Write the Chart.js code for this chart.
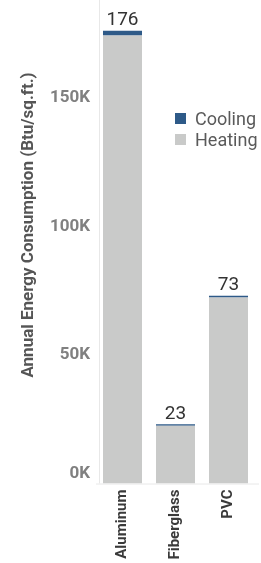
<!DOCTYPE html>
<html>
<head>
<meta charset="utf-8">
<script src="https://cdn.jsdelivr.net/npm/chart.js@4"></script>
<style>
  body { margin: 0; background: #fff; }
  #caja { position: relative; width: 261px; height: 563px; }
  #leyenda { position: absolute; left: 175px; top: 108px; font-family: Roboto, sans-serif; font-size: 18px; color: #5a5a5a; }
  .fila { display: flex; align-items: center; height: 21px; }
  .cuadro { width: 11px; height: 11px; margin-right: 9px; }
</style>
</head>
<body>
<div id="caja">
  <canvas id="grafica" width="261" height="563"></canvas>
  <div id="leyenda">
    <div class="fila"><span class="cuadro" style="background:#2e5a88"></span>Cooling</div>
    <div class="fila"><span class="cuadro" style="background:#c9cac9"></span>Heating</div>
  </div>
</div>
<script>
var categorias = ["Aluminum", "Fiberglass", "PVC"]
var calefaccion = [174200, 22500, 72300]
var enfriamiento = [1800, 500, 700]
var totales = [176, 23, 73]
var marcas_y = [0, 50000, 100000, 150000]
var titulo_y = "Annual Energy Consumption (Btu/sq.ft.)"

// numeros arriba de cada barra + etiquetas del eje y + titulo
var textos = {
    id: "textos",
    afterDatasetsDraw(chart) {
        var ctx = chart.ctx
        var barras = chart.getDatasetMeta(1).data
        ctx.save()
        ctx.font = "19px Roboto"
        ctx.fillStyle = "#333"
        ctx.textAlign = "center"
        ctx.textBaseline = "bottom"
        barras.forEach((b, i) => {
            ctx.fillText(totales[i], b.x, b.y - 1)
        })

        var escala = chart.scales.y
        ctx.font = "bold 17px Roboto"
        ctx.fillStyle = "#808080"
        ctx.textAlign = "right"
        ctx.textBaseline = "middle"
        marcas_y.forEach(v => {
            var y = escala.getPixelForValue(v)
            if (v == 0) y -= 10
            ctx.fillText((v / 1000) + "K", 90, y)
        })

        ctx.translate(29, 225)
        ctx.rotate(-Math.PI / 2)
        ctx.font = "bold 17px Roboto"
        ctx.fillStyle = "#555"
        ctx.textAlign = "center"
        ctx.fillText(titulo_y, 0, 0)
        ctx.restore()
    }
}

var linea_eje = {
    id: "linea_eje",
    beforeDatasetsDraw(chart) {
        var ctx = chart.ctx
        var area = chart.chartArea
        ctx.save()
        ctx.strokeStyle = "#e8e8e8"
        ctx.lineWidth = 1
        ctx.beginPath()
        ctx.moveTo(99.5, 0)
        ctx.lineTo(99.5, area.bottom)
        ctx.moveTo(area.left, area.bottom + 0.5)
        ctx.lineTo(area.right + 4, area.bottom + 0.5)
        ctx.stroke()
        ctx.restore()
    }
}

new Chart(document.getElementById("grafica"), {
    type: "bar",
    data: {
        labels: categorias,
        datasets: [
            { label: "Heating", data: calefaccion, backgroundColor: "#c9cac9", barPercentage: 0.736, categoryPercentage: 1 },
            { label: "Cooling", data: enfriamiento, backgroundColor: "#2e5a88", barPercentage: 0.736, categoryPercentage: 1 }
        ]
    },
    options: {
        responsive: false,
        animation: false,
        layout: { padding: { top: 0, right: 6, bottom: 0, left: 0 } },
        plugins: { legend: { display: false }, tooltip: { enabled: false } },
        scales: {
            x: {
                stacked: true,
                grid: { display: false, drawTicks: false },
                border: { display: false },
                ticks: {
                    minRotation: 90, maxRotation: 90, padding: 6,
                    color: "#3a3a3a", font: { family: "Roboto", size: 15, weight: "bold" }
                },
                afterFit(s) { s.height = 79.5 }
            },
            y: {
                stacked: true,
                min: 0, max: 188000,
                grid: { display: false, drawTicks: false },
                border: { display: false },
                afterBuildTicks(s) { s.ticks = marcas_y.map(v => ({ value: v })) },
                ticks: { display: false },
                afterFit(s) { s.width = 96; s.paddingTop = 0; s.paddingBottom = 0 }
            }
        }
    },
    plugins: [textos, linea_eje]
})
</script>
</body>
</html>
